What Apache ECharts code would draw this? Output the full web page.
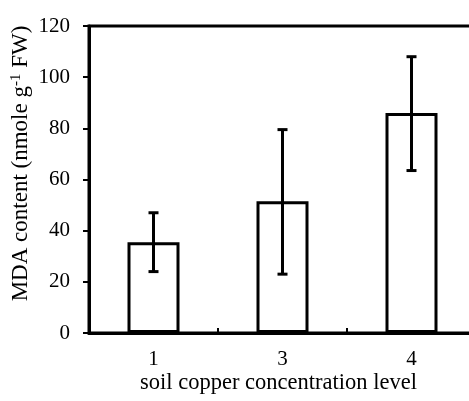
<!DOCTYPE html>
<html>
<head>
<meta charset="utf-8">
<script src="https://cdn.jsdelivr.net/npm/echarts@6/dist/echarts.min.js"></script>
<style>html,body{margin:0;padding:0;background:#fff}#c{width:469px;height:401px}</style>
</head>
<body>
<div id="c"></div>
<script>
var categories = ['1', '3', '4'];
var meanValues = [35.5, 51.5, 86];
var errLow = [24, 23, 63.5];
var errHigh = [47, 79.5, 108];
var yTicks = [0, 20, 40, 60, 80, 100, 120];

var FONT = 'Liberation Serif';
var chart = echarts.init(document.getElementById('c'), null, {renderer: 'canvas'});
var errData = categories.map(function (c, i) { return [i, errLow[i], errHigh[i]]; });

chart.setOption({
  animation: false,
  backgroundColor: '#fff',
  grid: {left: 89, top: 26, width: 387, height: 307, outerBoundsMode: 'none', containLabel: false, show: true, borderColor: '#000', borderWidth: 3, backgroundColor: 'transparent'},
  xAxis: {
    type: 'category',
    data: categories,
    z: 5,
    name: 'soil copper concentration level',
    nameLocation: 'middle',
    nameGap: 39,
    nameMoveOverlap: false,
    nameTextStyle: {fontFamily: FONT, fontSize: 22.5, color: '#000', padding: [0, 8, 0, 0]},
    axisLine: {lineStyle: {color: '#000', width: 3}},
    axisTick: {show: true, inside: true, length: 5, lineStyle: {color: '#000', width: 2}},
    axisLabel: {fontFamily: FONT, fontSize: 21, color: '#000', margin: 16},
    splitLine: {show: false}
  },
  yAxis: {
    type: 'value',
    z: 5,
    min: yTicks[0],
    max: yTicks[yTicks.length - 1],
    interval: 20,
    name: 'MDA content (nmole g{sup|-1} FW)',
    nameLocation: 'middle',
    nameGap: 57,
    nameMoveOverlap: false,
    nameTextStyle: {
      fontFamily: FONT, fontSize: 23, color: '#000', padding: [0, 0, 0, 32],
      rich: {sup: {fontFamily: FONT, fontSize: 15, color: '#000', verticalAlign: 'top', padding: [0, 0, 8, 0]}}
    },
    axisLine: {show: true, lineStyle: {color: '#000', width: 3}},
    axisTick: {show: true, length: 6, lineStyle: {color: '#000', width: 2}},
    axisLabel: {fontFamily: FONT, fontSize: 21, color: '#000', margin: 19},
    splitLine: {show: false}
  },
  series: [
    {
      type: 'bar',
      data: meanValues,
      barWidth: 52,
      itemStyle: {color: '#fff', borderColor: '#000', borderWidth: 3}
    },
    {
      type: 'custom',
      data: errData,
      z: 10,
      renderItem: function (params, api) {
        var x = api.value(0);
        var lo = api.coord([x, api.value(1)]);
        var hi = api.coord([x, api.value(2)]);
        var hw = 5;
        var st = {stroke: '#000', lineWidth: 3};
        return {
          type: 'group',
          children: [
            {type: 'line', shape: {x1: lo[0], y1: lo[1], x2: hi[0], y2: hi[1]}, style: st},
            {type: 'line', shape: {x1: hi[0] - hw, y1: hi[1], x2: hi[0] + hw, y2: hi[1]}, style: st},
            {type: 'line', shape: {x1: lo[0] - hw, y1: lo[1], x2: lo[0] + hw, y2: lo[1]}, style: st}
          ]
        };
      }
    }
  ]
});
</script>
</body>
</html>
